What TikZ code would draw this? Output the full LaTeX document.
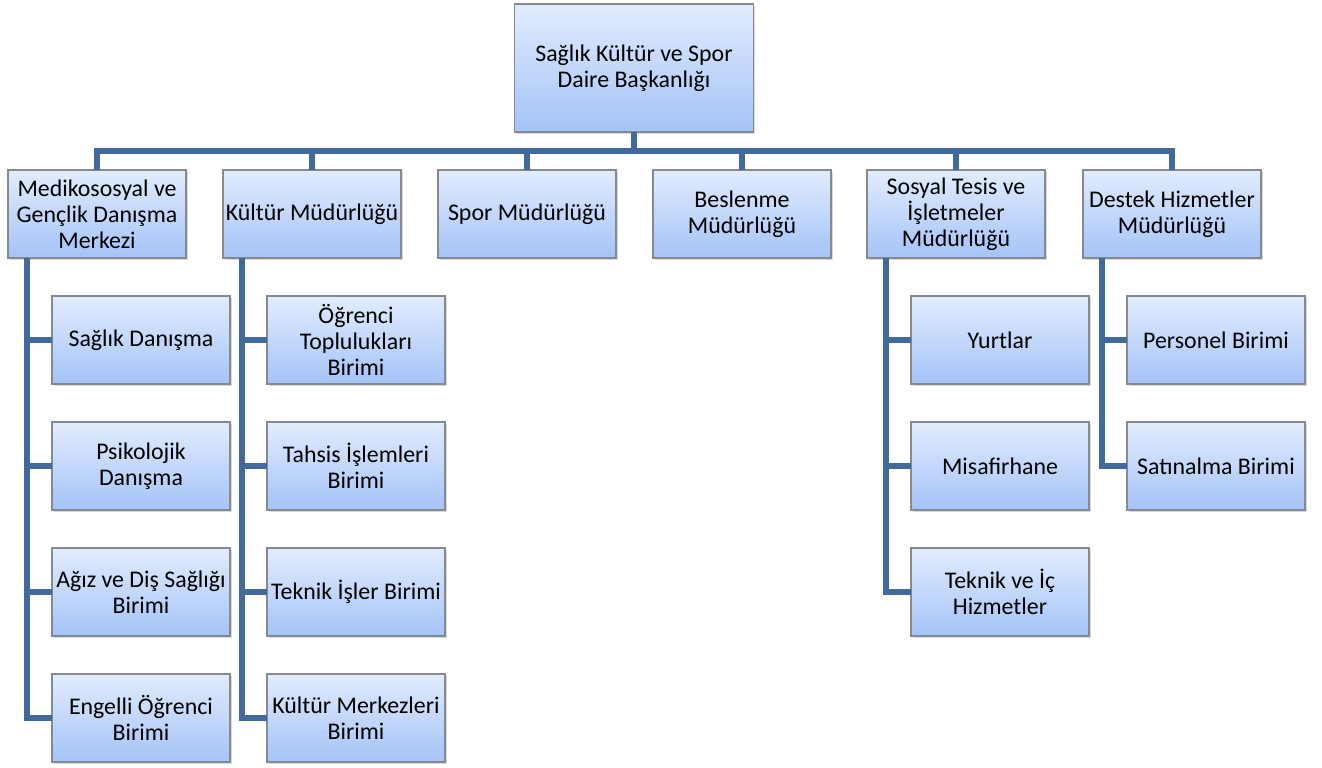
\documentclass[tikz,border=0pt]{standalone}
\usepackage{fontspec}
\setmainfont{Carlito}
\usepackage{tikz}
\usetikzlibrary{calc,shadows}

\definecolor{linkblue}{HTML}{41699C}
\definecolor{boxtop}{HTML}{E2ECFE}
\definecolor{boxbot}{HTML}{A4C3F7}
\definecolor{boxrim}{HTML}{858A90}

\begin{document}
\begin{tikzpicture}[x=0.75pt,y=-0.75pt,every node/.style={outer sep=0pt}]
\tikzstyle{unit}=[draw=boxrim,line width=0.8pt,top color=boxtop,bottom color=boxbot,
   minimum width=133.5pt,minimum height=66pt,align=center,inner xsep=1pt,
   font=\fontsize{17.9pt}{19.5pt}\selectfont,
   drop shadow={opacity=0.3,shadow xshift=1.5pt,shadow yshift=-1.8pt}]
\tikzstyle{link}=[linkblue,line width=3.8pt]

\useasboundingbox (0,0) rectangle (1322,768);

% head
\node (HD) at (634,68) [unit,minimum width=179pt,minimum height=96pt]
   {Sağlık Kültür ve Spor\\Daire Başkanlığı};

% directorates
\node (MK) at (97,214) [unit] {Medikososyal ve\\Gençlik Danışma\\Merkezi};
\node (KM) at (312,214) [unit] {Kültür Müdürlüğü};
\node (SM) at (527,214) [unit] {Spor Müdürlüğü};
\node (BM) at (742,214) [unit] {Beslenme\\Müdürlüğü};
\node (ST) at (956,214) [unit] {Sosyal Tesis ve\\İşletmeler\\Müdürlüğü};
\node (DH) at (1172,214) [unit] {Destek Hizmetler\\Müdürlüğü};

\foreach \d in {MK,KM,SM,BM,ST,DH}
   \draw [link] (HD.south) -- ++(0,19) -| (\d.north);

% units under Medikososyal
\node (MK1) at (141,340) [unit] {Sağlık Danışma};
\node (MK2) at (141,466) [unit] {Psikolojik\\Danışma};
\node (MK3) at (141,592) [unit] {Ağız ve Diş Sağlığı\\Birimi};
\node (MK4) at (141,718) [unit] {Engelli Öğrenci\\Birimi};

% units under Kültür
\node (KM1) at (356,340) [unit] {Öğrenci\\Toplulukları\\Birimi};
\node (KM2) at (356,466) [unit] {Tahsis İşlemleri\\Birimi};
\node (KM3) at (356,592) [unit] {Teknik İşler Birimi};
\node (KM4) at (356,718) [unit] {Kültür Merkezleri\\Birimi};

% units under Sosyal Tesis
\node (ST1) at (1000,340) [unit] {Yurtlar};
\node (ST2) at (1000,466) [unit] {Misafirhane};
\node (ST3) at (1000,592) [unit] {Teknik ve İç\\Hizmetler};

% units under Destek
\node (DH1) at (1216,340) [unit] {Personel Birimi};
\node (DH2) at (1216,466) [unit] {Satınalma Birimi};

\foreach \u in {MK1,MK2,MK3,MK4}
   \draw [link] ($(MK.south west)+(19,0)$) |- (\u.west);
\foreach \u in {KM1,KM2,KM3,KM4}
   \draw [link] ($(KM.south west)+(19,0)$) |- (\u.west);
\foreach \u in {ST1,ST2,ST3}
   \draw [link] ($(ST.south west)+(19,0)$) |- (\u.west);
\foreach \u in {DH1,DH2}
   \draw [link] ($(DH.south west)+(19,0)$) |- (\u.west);

\end{tikzpicture}
\end{document}
